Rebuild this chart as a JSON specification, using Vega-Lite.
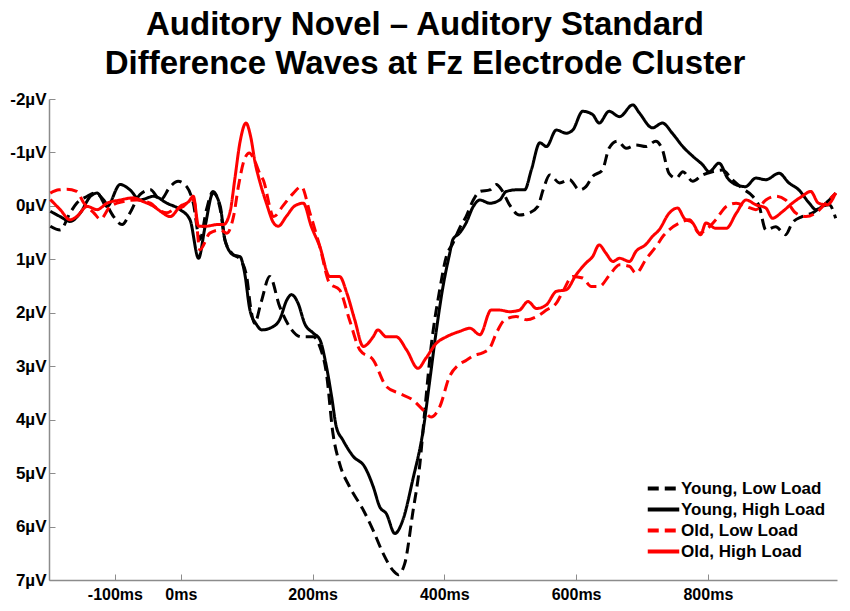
{
  "$schema": "https://vega.github.io/schema/vega-lite/v6.json",
  "autosize": "none",
  "width": 788,
  "height": 481,
  "padding": {"left": 49, "top": 99, "right": 13, "bottom": 31},
  "background": "white",
  "title": {
    "text": ["Auditory Novel – Auditory Standard", "Difference Waves at Fz Electrode Cluster"],
    "font": "Liberation Sans",
    "fontSize": 33,
    "fontWeight": "bold",
    "lineHeight": 39,
    "color": "black",
    "anchor": "middle",
    "dx": -18,
    "offset": 9
  },
  "datasets": {
    "waves": [
      {"s":"Young, Low Load","t":-198,"v":0.38},{"s":"Young, Low Load","t":-183,"v":0.45},{"s":"Young, Low Load","t":-168,"v":0.13},{"s":"Young, Low Load","t":-158,"v":-0.05},{"s":"Young, Low Load","t":-142,"v":-0.18},{"s":"Young, Low Load","t":-130,"v":-0.24},{"s":"Young, Low Load","t":-117,"v":-0.11},{"s":"Young, Low Load","t":-102,"v":0.2},{"s":"Young, Low Load","t":-89,"v":0.35},{"s":"Young, Low Load","t":-77,"v":0.13},{"s":"Young, Low Load","t":-62,"v":-0.21},{"s":"Young, Low Load","t":-46,"v":-0.3},{"s":"Young, Low Load","t":-31,"v":-0.11},{"s":"Young, Low Load","t":-16,"v":-0.36},{"s":"Young, Low Load","t":-4,"v":-0.46},{"s":"Young, Low Load","t":9,"v":-0.36},{"s":"Young, Low Load","t":19,"v":-0.05},{"s":"Young, Low Load","t":29,"v":0.63},{"s":"Young, Low Load","t":39,"v":0.07},{"s":"Young, Low Load","t":49,"v":-0.27},{"s":"Young, Low Load","t":60,"v":0.07},{"s":"Young, Low Load","t":67,"v":0.63},{"s":"Young, Low Load","t":77,"v":0.88},{"s":"Young, Low Load","t":90,"v":1.0},{"s":"Young, Low Load","t":100,"v":1.32},{"s":"Young, Low Load","t":106,"v":1.9},{"s":"Young, Low Load","t":112,"v":2.2},{"s":"Young, Low Load","t":122,"v":1.8},{"s":"Young, Low Load","t":135,"v":1.32},{"s":"Young, Low Load","t":150,"v":1.88},{"s":"Young, Low Load","t":165,"v":2.26},{"s":"Young, Low Load","t":183,"v":2.45},{"s":"Young, Low Load","t":201,"v":2.45},{"s":"Young, Low Load","t":211,"v":2.63},{"s":"Young, Low Load","t":221,"v":3.13},{"s":"Young, Low Load","t":231,"v":4.26},{"s":"Young, Low Load","t":241,"v":4.82},{"s":"Young, Low Load","t":256,"v":5.25},{"s":"Young, Low Load","t":277,"v":5.69},{"s":"Young, Low Load","t":292,"v":6.07},{"s":"Young, Low Load","t":307,"v":6.5},{"s":"Young, Low Load","t":322,"v":6.82},{"s":"Young, Low Load","t":330,"v":6.9},{"s":"Young, Low Load","t":340,"v":6.69},{"s":"Young, Low Load","t":352,"v":5.75},{"s":"Young, Low Load","t":363,"v":4.82},{"s":"Young, Low Load","t":370,"v":3.88},{"s":"Young, Low Load","t":380,"v":2.63},{"s":"Young, Low Load","t":393,"v":1.57},{"s":"Young, Low Load","t":403,"v":0.95},{"s":"Young, Low Load","t":413,"v":0.7},{"s":"Young, Low Load","t":423,"v":0.42},{"s":"Young, Low Load","t":433,"v":0.2},{"s":"Young, Low Load","t":444,"v":-0.11},{"s":"Young, Low Load","t":454,"v":-0.27},{"s":"Young, Low Load","t":469,"v":-0.3},{"s":"Young, Low Load","t":479,"v":-0.4},{"s":"Young, Low Load","t":487,"v":-0.3},{"s":"Young, Low Load","t":499,"v":-0.02},{"s":"Young, Low Load","t":514,"v":0.17},{"s":"Young, Low Load","t":529,"v":0.13},{"s":"Young, Low Load","t":542,"v":0.01},{"s":"Young, Low Load","t":550,"v":-0.3},{"s":"Young, Low Load","t":560,"v":-0.58},{"s":"Young, Low Load","t":575,"v":-0.43},{"s":"Young, Low Load","t":590,"v":-0.49},{"s":"Young, Low Load","t":605,"v":-0.3},{"s":"Young, Low Load","t":615,"v":-0.36},{"s":"Young, Low Load","t":625,"v":-0.55},{"s":"Young, Low Load","t":640,"v":-0.67},{"s":"Young, Low Load","t":650,"v":-1.08},{"s":"Young, Low Load","t":663,"v":-1.21},{"s":"Young, Low Load","t":676,"v":-1.08},{"s":"Young, Low Load","t":691,"v":-1.14},{"s":"Young, Low Load","t":706,"v":-1.11},{"s":"Young, Low Load","t":721,"v":-1.21},{"s":"Young, Low Load","t":731,"v":-1.05},{"s":"Young, Low Load","t":741,"v":-0.61},{"s":"Young, Low Load","t":752,"v":-0.52},{"s":"Young, Low Load","t":762,"v":-0.64},{"s":"Young, Low Load","t":777,"v":-0.46},{"s":"Young, Low Load","t":792,"v":-0.58},{"s":"Young, Low Load","t":807,"v":-0.64},{"s":"Young, Low Load","t":822,"v":-0.67},{"s":"Young, Low Load","t":837,"v":-0.49},{"s":"Young, Low Load","t":852,"v":-0.33},{"s":"Young, Low Load","t":868,"v":-0.18},{"s":"Young, Low Load","t":878,"v":0.01},{"s":"Young, Low Load","t":888,"v":0.45},{"s":"Young, Low Load","t":903,"v":0.39},{"s":"Young, Low Load","t":918,"v":0.54},{"s":"Young, Low Load","t":928,"v":0.32},{"s":"Young, Low Load","t":943,"v":0.2},{"s":"Young, Low Load","t":959,"v":0.13},{"s":"Young, Low Load","t":974,"v":0.01},{"s":"Young, Low Load","t":984,"v":-0.02},{"s":"Young, Low Load","t":994,"v":0.23},

      {"s":"Young, High Load","t":-198,"v":0.1},{"s":"Young, High Load","t":-183,"v":0.2},{"s":"Young, High Load","t":-168,"v":0.29},{"s":"Young, High Load","t":-153,"v":0.14},{"s":"Young, High Load","t":-137,"v":-0.18},{"s":"Young, High Load","t":-127,"v":-0.24},{"s":"Young, High Load","t":-112,"v":0.01},{"s":"Young, High Load","t":-92,"v":-0.4},{"s":"Young, High Load","t":-77,"v":-0.3},{"s":"Young, High Load","t":-62,"v":-0.11},{"s":"Young, High Load","t":-41,"v":-0.18},{"s":"Young, High Load","t":-21,"v":-0.05},{"s":"Young, High Load","t":-1,"v":0.07},{"s":"Young, High Load","t":14,"v":0.26},{"s":"Young, High Load","t":27,"v":0.98},{"s":"Young, High Load","t":37,"v":0.38},{"s":"Young, High Load","t":49,"v":-0.24},{"s":"Young, High Load","t":60,"v":0.01},{"s":"Young, High Load","t":67,"v":0.64},{"s":"Young, High Load","t":80,"v":0.92},{"s":"Young, High Load","t":90,"v":0.95},{"s":"Young, High Load","t":97,"v":1.26},{"s":"Young, High Load","t":105,"v":1.95},{"s":"Young, High Load","t":115,"v":2.22},{"s":"Young, High Load","t":123,"v":2.32},{"s":"Young, High Load","t":140,"v":2.26},{"s":"Young, High Load","t":150,"v":2.13},{"s":"Young, High Load","t":161,"v":1.76},{"s":"Young, High Load","t":168,"v":1.66},{"s":"Young, High Load","t":178,"v":1.82},{"s":"Young, High Load","t":188,"v":2.2},{"s":"Young, High Load","t":201,"v":2.38},{"s":"Young, High Load","t":211,"v":2.5},{"s":"Young, High Load","t":221,"v":3.0},{"s":"Young, High Load","t":229,"v":3.57},{"s":"Young, High Load","t":236,"v":4.13},{"s":"Young, High Load","t":246,"v":4.38},{"s":"Young, High Load","t":262,"v":4.69},{"s":"Young, High Load","t":279,"v":4.88},{"s":"Young, High Load","t":292,"v":5.25},{"s":"Young, High Load","t":302,"v":5.63},{"s":"Young, High Load","t":312,"v":5.76},{"s":"Young, High Load","t":325,"v":6.13},{"s":"Young, High Load","t":337,"v":5.88},{"s":"Young, High Load","t":352,"v":5.13},{"s":"Young, High Load","t":368,"v":4.19},{"s":"Young, High Load","t":378,"v":3.26},{"s":"Young, High Load","t":388,"v":2.32},{"s":"Young, High Load","t":398,"v":1.51},{"s":"Young, High Load","t":408,"v":0.9},{"s":"Young, High Load","t":413,"v":0.63},{"s":"Young, High Load","t":423,"v":0.51},{"s":"Young, High Load","t":433,"v":0.32},{"s":"Young, High Load","t":444,"v":0.01},{"s":"Young, High Load","t":454,"v":-0.11},{"s":"Young, High Load","t":469,"v":-0.05},{"s":"Young, High Load","t":484,"v":-0.11},{"s":"Young, High Load","t":494,"v":-0.27},{"s":"Young, High Load","t":509,"v":-0.3},{"s":"Young, High Load","t":522,"v":-0.3},{"s":"Young, High Load","t":532,"v":-0.67},{"s":"Young, High Load","t":545,"v":-1.18},{"s":"Young, High Load","t":555,"v":-1.11},{"s":"Young, High Load","t":570,"v":-1.42},{"s":"Young, High Load","t":585,"v":-1.36},{"s":"Young, High Load","t":595,"v":-1.42},{"s":"Young, High Load","t":610,"v":-1.77},{"s":"Young, High Load","t":625,"v":-1.71},{"s":"Young, High Load","t":635,"v":-1.55},{"s":"Young, High Load","t":650,"v":-1.77},{"s":"Young, High Load","t":666,"v":-1.67},{"s":"Young, High Load","t":686,"v":-1.89},{"s":"Young, High Load","t":696,"v":-1.74},{"s":"Young, High Load","t":716,"v":-1.46},{"s":"Young, High Load","t":731,"v":-1.55},{"s":"Young, High Load","t":746,"v":-1.36},{"s":"Young, High Load","t":762,"v":-1.11},{"s":"Young, High Load","t":777,"v":-0.93},{"s":"Young, High Load","t":792,"v":-0.77},{"s":"Young, High Load","t":802,"v":-0.64},{"s":"Young, High Load","t":817,"v":-0.8},{"s":"Young, High Load","t":830,"v":-0.52},{"s":"Young, High Load","t":842,"v":-0.4},{"s":"Young, High Load","t":857,"v":-0.36},{"s":"Young, High Load","t":873,"v":-0.52},{"s":"Young, High Load","t":888,"v":-0.49},{"s":"Young, High Load","t":908,"v":-0.61},{"s":"Young, High Load","t":923,"v":-0.43},{"s":"Young, High Load","t":938,"v":-0.3},{"s":"Young, High Load","t":954,"v":-0.05},{"s":"Young, High Load","t":964,"v":0.07},{"s":"Young, High Load","t":979,"v":-0.05},{"s":"Young, High Load","t":994,"v":-0.24},

      {"s":"Old, Low Load","t":-198,"v":-0.24},{"s":"Old, Low Load","t":-185,"v":-0.3},{"s":"Old, Low Load","t":-173,"v":-0.31},{"s":"Old, Low Load","t":-158,"v":-0.27},{"s":"Old, Low Load","t":-147,"v":-0.05},{"s":"Old, Low Load","t":-132,"v":0.13},{"s":"Old, Low Load","t":-122,"v":0.25},{"s":"Old, Low Load","t":-107,"v":0.01},{"s":"Old, Low Load","t":-87,"v":-0.08},{"s":"Old, Low Load","t":-67,"v":-0.11},{"s":"Old, Low Load","t":-46,"v":-0.05},{"s":"Old, Low Load","t":-34,"v":0.07},{"s":"Old, Low Load","t":-21,"v":0.13},{"s":"Old, Low Load","t":-11,"v":0.07},{"s":"Old, Low Load","t":4,"v":0.01},{"s":"Old, Low Load","t":12,"v":-0.08},{"s":"Old, Low Load","t":20,"v":-0.11},{"s":"Old, Low Load","t":29,"v":0.82},{"s":"Old, Low Load","t":44,"v":0.51},{"s":"Old, Low Load","t":60,"v":0.45},{"s":"Old, Low Load","t":70,"v":0.51},{"s":"Old, Low Load","t":80,"v":0.2},{"s":"Old, Low Load","t":88,"v":-0.4},{"s":"Old, Low Load","t":96,"v":-0.85},{"s":"Old, Low Load","t":104,"v":-0.99},{"s":"Old, Low Load","t":112,"v":-0.85},{"s":"Old, Low Load","t":120,"v":-0.6},{"s":"Old, Low Load","t":125,"v":-0.49},{"s":"Old, Low Load","t":141,"v":0.2},{"s":"Old, Low Load","t":155,"v":0.0},{"s":"Old, Low Load","t":171,"v":-0.24},{"s":"Old, Low Load","t":183,"v":-0.36},{"s":"Old, Low Load","t":196,"v":0.13},{"s":"Old, Low Load","t":211,"v":0.76},{"s":"Old, Low Load","t":226,"v":1.45},{"s":"Old, Low Load","t":241,"v":1.57},{"s":"Old, Low Load","t":256,"v":2.13},{"s":"Old, Low Load","t":272,"v":2.7},{"s":"Old, Low Load","t":292,"v":2.88},{"s":"Old, Low Load","t":312,"v":3.38},{"s":"Old, Low Load","t":332,"v":3.51},{"s":"Old, Low Load","t":352,"v":3.63},{"s":"Old, Low Load","t":368,"v":3.82},{"s":"Old, Low Load","t":380,"v":3.95},{"s":"Old, Low Load","t":393,"v":3.76},{"s":"Old, Low Load","t":408,"v":3.19},{"s":"Old, Low Load","t":421,"v":2.98},{"s":"Old, Low Load","t":432,"v":2.9},{"s":"Old, Low Load","t":445,"v":2.8},{"s":"Old, Low Load","t":458,"v":2.75},{"s":"Old, Low Load","t":469,"v":2.66},{"s":"Old, Low Load","t":479,"v":2.38},{"s":"Old, Low Load","t":492,"v":2.13},{"s":"Old, Low Load","t":509,"v":2.07},{"s":"Old, Low Load","t":525,"v":2.13},{"s":"Old, Low Load","t":540,"v":2.07},{"s":"Old, Low Load","t":555,"v":1.95},{"s":"Old, Low Load","t":570,"v":1.82},{"s":"Old, Low Load","t":580,"v":1.6},{"s":"Old, Low Load","t":595,"v":1.32},{"s":"Old, Low Load","t":610,"v":1.35},{"s":"Old, Low Load","t":623,"v":1.51},{"s":"Old, Low Load","t":635,"v":1.51},{"s":"Old, Low Load","t":651,"v":1.29},{"s":"Old, Low Load","t":666,"v":1.1},{"s":"Old, Low Load","t":681,"v":1.13},{"s":"Old, Low Load","t":691,"v":1.26},{"s":"Old, Low Load","t":706,"v":1.0},{"s":"Old, Low Load","t":722,"v":0.75},{"s":"Old, Low Load","t":733,"v":0.55},{"s":"Old, Low Load","t":741,"v":0.45},{"s":"Old, Low Load","t":757,"v":0.32},{"s":"Old, Low Load","t":772,"v":0.26},{"s":"Old, Low Load","t":787,"v":0.51},{"s":"Old, Low Load","t":797,"v":0.45},{"s":"Old, Low Load","t":812,"v":0.26},{"s":"Old, Low Load","t":828,"v":0.01},{"s":"Old, Low Load","t":843,"v":-0.05},{"s":"Old, Low Load","t":858,"v":0.01},{"s":"Old, Low Load","t":873,"v":0.07},{"s":"Old, Low Load","t":888,"v":-0.11},{"s":"Old, Low Load","t":903,"v":-0.18},{"s":"Old, Low Load","t":918,"v":-0.11},{"s":"Old, Low Load","t":933,"v":0.13},{"s":"Old, Low Load","t":949,"v":0.2},{"s":"Old, Low Load","t":964,"v":0.13},{"s":"Old, Low Load","t":979,"v":-0.05},{"s":"Old, Low Load","t":994,"v":-0.24},

      {"s":"Old, High Load","t":-198,"v":-0.12},{"s":"Old, High Load","t":-183,"v":0.07},{"s":"Old, High Load","t":-168,"v":0.26},{"s":"Old, High Load","t":-158,"v":0.2},{"s":"Old, High Load","t":-142,"v":0.01},{"s":"Old, High Load","t":-127,"v":0.07},{"s":"Old, High Load","t":-112,"v":-0.05},{"s":"Old, High Load","t":-92,"v":-0.11},{"s":"Old, High Load","t":-72,"v":-0.15},{"s":"Old, High Load","t":-57,"v":-0.08},{"s":"Old, High Load","t":-41,"v":0.01},{"s":"Old, High Load","t":-31,"v":0.1},{"s":"Old, High Load","t":-16,"v":0.2},{"s":"Old, High Load","t":-1,"v":0.01},{"s":"Old, High Load","t":12,"v":-0.08},{"s":"Old, High Load","t":19,"v":-0.18},{"s":"Old, High Load","t":27,"v":0.38},{"s":"Old, High Load","t":39,"v":0.38},{"s":"Old, High Load","t":55,"v":0.35},{"s":"Old, High Load","t":65,"v":0.35},{"s":"Old, High Load","t":75,"v":0.1},{"s":"Old, High Load","t":82,"v":-0.5},{"s":"Old, High Load","t":90,"v":-1.2},{"s":"Old, High Load","t":99,"v":-1.55},{"s":"Old, High Load","t":106,"v":-1.3},{"s":"Old, High Load","t":113,"v":-0.8},{"s":"Old, High Load","t":120,"v":-0.45},{"s":"Old, High Load","t":130,"v":-0.05},{"s":"Old, High Load","t":141,"v":0.32},{"s":"Old, High Load","t":148,"v":0.38},{"s":"Old, High Load","t":160,"v":0.2},{"s":"Old, High Load","t":173,"v":0.0},{"s":"Old, High Load","t":186,"v":-0.05},{"s":"Old, High Load","t":198,"v":0.38},{"s":"Old, High Load","t":211,"v":0.76},{"s":"Old, High Load","t":226,"v":1.32},{"s":"Old, High Load","t":241,"v":1.32},{"s":"Old, High Load","t":252,"v":1.63},{"s":"Old, High Load","t":264,"v":2.13},{"s":"Old, High Load","t":277,"v":2.63},{"s":"Old, High Load","t":292,"v":2.45},{"s":"Old, High Load","t":299,"v":2.32},{"s":"Old, High Load","t":312,"v":2.45},{"s":"Old, High Load","t":327,"v":2.45},{"s":"Old, High Load","t":343,"v":2.7},{"s":"Old, High Load","t":360,"v":3.04},{"s":"Old, High Load","t":372,"v":2.85},{"s":"Old, High Load","t":388,"v":2.57},{"s":"Old, High Load","t":403,"v":2.45},{"s":"Old, High Load","t":423,"v":2.35},{"s":"Old, High Load","t":439,"v":2.29},{"s":"Old, High Load","t":454,"v":2.41},{"s":"Old, High Load","t":471,"v":1.95},{"s":"Old, High Load","t":484,"v":1.95},{"s":"Old, High Load","t":499,"v":1.98},{"s":"Old, High Load","t":514,"v":1.95},{"s":"Old, High Load","t":527,"v":1.79},{"s":"Old, High Load","t":540,"v":1.92},{"s":"Old, High Load","t":555,"v":1.85},{"s":"Old, High Load","t":570,"v":1.6},{"s":"Old, High Load","t":585,"v":1.57},{"s":"Old, High Load","t":600,"v":1.29},{"s":"Old, High Load","t":615,"v":1.07},{"s":"Old, High Load","t":625,"v":0.95},{"s":"Old, High Load","t":635,"v":0.73},{"s":"Old, High Load","t":645,"v":0.88},{"s":"Old, High Load","t":656,"v":1.04},{"s":"Old, High Load","t":666,"v":0.98},{"s":"Old, High Load","t":681,"v":1.04},{"s":"Old, High Load","t":691,"v":0.85},{"s":"Old, High Load","t":706,"v":0.72},{"s":"Old, High Load","t":716,"v":0.57},{"s":"Old, High Load","t":726,"v":0.45},{"s":"Old, High Load","t":741,"v":0.14},{"s":"Old, High Load","t":754,"v":0.04},{"s":"Old, High Load","t":764,"v":0.23},{"s":"Old, High Load","t":777,"v":0.32},{"s":"Old, High Load","t":789,"v":0.54},{"s":"Old, High Load","t":797,"v":0.32},{"s":"Old, High Load","t":812,"v":0.42},{"s":"Old, High Load","t":828,"v":0.42},{"s":"Old, High Load","t":843,"v":0.14},{"s":"Old, High Load","t":858,"v":-0.11},{"s":"Old, High Load","t":873,"v":-0.02},{"s":"Old, High Load","t":888,"v":0.04},{"s":"Old, High Load","t":898,"v":0.23},{"s":"Old, High Load","t":913,"v":0.11},{"s":"Old, High Load","t":928,"v":-0.05},{"s":"Old, High Load","t":943,"v":-0.18},{"s":"Old, High Load","t":956,"v":-0.27},{"s":"Old, High Load","t":968,"v":-0.05},{"s":"Old, High Load","t":981,"v":-0.02},{"s":"Old, High Load","t":994,"v":-0.24}
    ]
  },
  "data": {"name": "waves"},
  "mark": {"type": "line", "strokeWidth": 3, "interpolate": "monotone"},
  "encoding": {
    "x": {
      "field": "t", "type": "quantitative",
      "scale": {"domain": [-200, 996], "nice": false, "zero": false},
      "axis": {
        "title": null, "grid": false,
        "values": [-100, 0, 200, 400, 600, 800],
        "labelExpr": "datum.value + 'ms'",
        "tickSize": -6, "labelPadding": 12,
        "domainColor": "#8c8c8c", "tickColor": "#8c8c8c", "domainWidth": 1.5,
        "labelFont": "Liberation Sans", "labelFontSize": 16, "labelFontWeight": "bold", "labelColor": "black"
      }
    },
    "y": {
      "field": "v", "type": "quantitative",
      "scale": {"domain": [-2, 7], "reverse": true, "nice": false, "zero": false},
      "axis": {
        "title": null, "grid": false,
        "values": [-2, -1, 0, 1, 2, 3, 4, 5, 6, 7],
        "labelExpr": "datum.value + 'µV'",
        "tickSize": -6, "labelPadding": 9,
        "domainColor": "#8c8c8c", "tickColor": "#8c8c8c", "domainWidth": 1.5,
        "labelFont": "Liberation Sans", "labelFontSize": 17, "labelFontWeight": "bold", "labelColor": "black"
      }
    },
    "color": {
      "field": "s", "type": "nominal",
      "scale": {"domain": ["Young, Low Load", "Young, High Load", "Old, Low Load", "Old, High Load"], "range": ["#000000", "#000000", "#ff0000", "#ff0000"]},
      "legend": {
        "title": null, "orient": "none", "legendX": 602, "legendY": 377,
        "symbolType": "M-1.5,0L1.5,0", "symbolStrokeWidth": 4, "symbolSize": 441,
        "labelFont": "Liberation Sans", "labelFontSize": 17, "labelFontWeight": "bold", "labelColor": "black",
        "labelOffset": 5, "rowPadding": 0
      }
    },
    "strokeDash": {
      "field": "s", "type": "nominal",
      "scale": {"domain": ["Young, Low Load", "Young, High Load", "Old, Low Load", "Old, High Load"], "range": [[11, 6], [1, 0], [11, 6], [1, 0]]},
      "legend": {
        "title": null, "orient": "none", "legendX": 602, "legendY": 377,
        "symbolType": "M-1.5,0L1.5,0", "symbolStrokeWidth": 4, "symbolSize": 441,
        "labelFont": "Liberation Sans", "labelFontSize": 17, "labelFontWeight": "bold", "labelColor": "black",
        "labelOffset": 5, "rowPadding": 0
      }
    }
  },
  "config": {"view": {"stroke": null}}
}
